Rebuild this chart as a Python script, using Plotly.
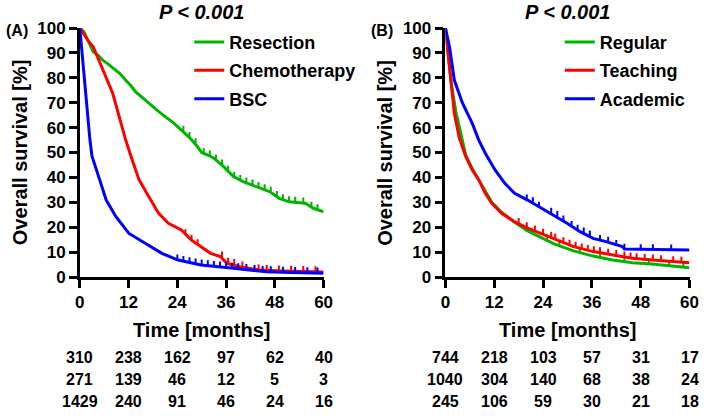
import plotly.graph_objects as go

### Panel A: treatment ###
months_resection = [0, 1, 2, 3.3, 4.5, 5.7, 7, 8.9, 10, 11.3, 12.5, 13.7, 15, 17, 19, 21, 23, 25, 27, 29, 30,
                    31.5, 33, 35.4, 37.8, 40.2, 43.5, 46.7, 49.1, 51.5, 55.5, 57.5, 60]
surv_resection = [100, 98.5, 95, 90.5, 89, 87, 85.5, 83, 81.5, 79, 77, 74.4, 72.5, 69.7, 67, 64.4, 62, 59, 56, 52.3, 50,
                  49, 47.7, 44.3, 40.3, 38.3, 36.3, 34.3, 31.6, 30.2, 29.6, 27.6, 26.2]
months_chemo = [0, 0.9, 2, 3.3, 4.5, 5.7, 7, 8.1, 9.7, 11.3, 12.9, 14.6, 17, 19.4, 21.8, 25, 27.4, 29.8, 32.2,
                34.6, 36.2, 39.4, 44.2, 50, 55, 60]
surv_chemo = [100, 97.9, 95, 92.5, 88, 83, 78.5, 73.8, 64.4, 55, 47, 39, 32.2, 25.6, 21.6, 18.9, 14.9, 12.2, 9.5,
              8.2, 5.5, 4.1, 2.8, 2.4, 2.2, 2]
months_bsc = [0, 0.5, 1, 1.5, 2, 2.5, 3, 4, 4.9, 6.5, 8.9, 12.1, 16.1, 20.2, 24.2, 29.8, 37.8, 45.9, 52, 60]
surv_bsc = [100, 91, 81, 72, 63, 55, 48.5, 43, 39, 30.9, 24.2, 17.5, 13.5, 9.5, 6.8, 4.8, 3.5, 2.1, 1.8, 1.5]

# censored observations (tick marks)
cens_t_resection = [25.5, 27, 28.5, 30.5, 32, 33.5, 35, 36.5, 38, 39.5, 41, 42.5, 44, 45.5, 47, 48.5, 50, 51.5, 53, 55, 57, 58.5]
cens_s_resection = [58.5, 56, 53.5, 49.6, 48.6, 47, 45, 42.5, 40, 38.8, 37.8, 37, 36, 35, 34, 32.3, 31, 30.2, 30, 29.7, 28, 27]
cens_t_chemo = [26, 27.5, 29, 35, 36.5, 38, 40, 44, 46, 49, 52, 55, 58]
cens_s_chemo = [17, 14.8, 13, 8, 5.5, 5, 4, 2.8, 2.6, 2.4, 2.3, 2.2, 2.1]
cens_t_bsc = [24, 25.5, 27, 28.5, 30, 31.5, 33, 34.5, 36, 37.5, 39, 41, 43, 45, 47, 50, 53, 56, 58.5]
cens_s_bsc = [6.8, 6.2, 5.7, 5.2, 4.8, 4.5, 4.2, 4, 3.7, 3.5, 3.3, 3, 2.6, 2.2, 2.1, 1.9, 1.8, 1.7, 1.6]

### Panel B: hospital type ###
months_regular = [0, 0.6, 1.4, 2.6, 3.8, 5, 6.6, 8.2, 9.8, 11.4, 13.8, 17, 20.2, 23.5, 26.7, 31.5, 36.3, 41.1,
                  45.9, 50.8, 55, 58.8, 60]
surv_regular = [100, 90.5, 78, 66, 58, 49, 43.5, 39, 34, 30, 26, 22, 18.5, 15.8, 13.3, 10.5, 8.4, 6.8,
                5.7, 5.2, 4.6, 3.9, 3.7]
months_teaching = [0, 0.6, 1.4, 2.2, 3.4, 5, 6.6, 8.2, 9.8, 11.4, 13.8, 17, 20.2, 23.5, 26.7, 31.5, 36.3, 41.1,
                   45.9, 50.8, 55, 60]
surv_teaching = [100, 89.8, 76.4, 65.7, 56, 48.3, 43, 39, 33.6, 29.6, 25.6, 22.2, 19.6, 17.5, 15.5, 12.2, 10.2, 8.8,
                 7.5, 6.8, 6.2, 5.7]
months_academic = [0, 1, 2.2, 4.2, 6.6, 8.2, 9.8, 12.2, 14.6, 17, 20.2, 24.3, 26.7, 29.9, 33.1, 36.3, 39.5, 43.5,
                   44, 50, 60]
surv_academic = [100, 92.5, 79, 69.8, 61.7, 55, 49.7, 43, 37.6, 33.6, 30.9, 26.9, 24.9, 21.6, 18.2, 15.5, 14.2, 12.2,
                 11.2, 11, 10.8]

cens_t_regular = [25, 28, 33, 38, 44, 50, 55, 58.5]
cens_s_regular = [14.5, 12.5, 9.8, 7.8, 6.1, 5.3, 4.6, 4]
cens_t_teaching = [18, 20, 22, 24, 26, 27, 29, 30.5, 32, 33.5, 35, 36.5, 38, 40, 42, 44, 45.5, 47, 49, 51, 53, 56, 58]
cens_s_teaching = [21.5, 19.8, 18.5, 17.2, 16, 15.3, 13.8, 12.8, 12, 11.3, 10.7, 10.1, 9.7, 9.1, 8.6, 8, 7.6, 7.3,
                   7, 6.8, 6.5, 6.1, 5.9]
cens_t_academic = [20, 21.5, 23, 26, 27.5, 29, 31, 32.5, 34, 35.5, 38, 40, 42, 44, 48, 51, 55.5]
cens_s_academic = [30.9, 29.8, 28, 25.6, 24.3, 22.5, 20.3, 18.8, 17.7, 16.5, 14.7, 14, 12.7, 11.2, 11, 11, 10.9]

### number at risk ###
risk_times = [0, 12, 24, 36, 48, 60]
risk_a = [[310, 238, 162, 97, 62, 40],
          [271, 139, 46, 12, 5, 3],
          [1429, 240, 91, 46, 24, 16]]
risk_b = [[744, 218, 103, 57, 31, 17],
          [1040, 304, 140, 68, 38, 24],
          [245, 106, 59, 30, 21, 18]]

GREEN = "#00B400"
RED = "#FF0000"
BLUE = "#0000FF"
FONT = "Liberation Sans, Arial, sans-serif"

panel_a = [
    ("Resection", months_resection, surv_resection, cens_t_resection, cens_s_resection, GREEN),
    ("Chemotherapy", months_chemo, surv_chemo, cens_t_chemo, cens_s_chemo, RED),
    ("BSC", months_bsc, surv_bsc, cens_t_bsc, cens_s_bsc, BLUE),
]
panel_b = [
    ("Regular", months_regular, surv_regular, cens_t_regular, cens_s_regular, GREEN),
    ("Teaching", months_teaching, surv_teaching, cens_t_teaching, cens_s_teaching, RED),
    ("Academic", months_academic, surv_academic, cens_t_academic, cens_s_academic, BLUE),
]

fig = go.Figure()

for panel, xa, ya, leg in [(panel_a, "x", "y", "legend"), (panel_b, "x2", "y2", "legend2")]:
    for name, t, s, ct, cs, color in panel:
        fig.add_trace(go.Scatter(
            x=t, y=s, mode="lines", name=name, line=dict(color=color, width=3),
            xaxis=xa, yaxis=ya, legend=leg, legendgroup=name + leg,
        ))
        # censor ticks: short upward strokes drawn as one-sided error bars
        fig.add_trace(go.Scatter(
            x=ct, y=cs, mode="markers", showlegend=False, xaxis=xa, yaxis=ya,
            marker=dict(size=1, color=color),
            error_y=dict(type="constant", value=2.2, valueminus=0, symmetric=False,
                         color=color, thickness=2, width=0),
            hoverinfo="skip",
        ))

axis_common = dict(
    showline=True, linecolor="black", linewidth=2.5, ticks="outside", ticklen=8, tickwidth=2.5,
    tickcolor="black", showgrid=False, zeroline=False,
    tickfont=dict(family=FONT, size=17, color="black", weight="bold"),
)
x_common = dict(axis_common, range=[0, 60], tickvals=risk_times)
y_common = dict(axis_common, range=[0, 100], tickvals=list(range(0, 101, 10)))

legend_common = dict(
    xanchor="left", yanchor="top", bgcolor="rgba(0,0,0,0)", tracegroupgap=2,
    font=dict(family=FONT, size=18, color="black", weight="bold"), itemwidth=30,
)

annotations = []
for xdom_ref, risk, ytitle_x in [("x", risk_a, 15), ("x2", risk_b, 387)]:
    for r, row in enumerate(risk):
        for t, n in zip(risk_times, row):
            annotations.append(dict(
                x=t, y=-0.325 - r * 0.088, xref=xdom_ref, yref="paper", text=str(n), showarrow=False,
                font=dict(family=FONT, size=16, color="black", weight="bold"),
                xanchor="center", yanchor="middle",
            ))
    annotations.append(dict(
        x=30, y=-0.213, xref=xdom_ref, yref="paper", text="Time [months]", showarrow=False,
        font=dict(family=FONT, size=20, color="black", weight="bold"), xanchor="center", yanchor="middle",
    ))
    annotations.append(dict(
        x=30, y=1.065, xref=xdom_ref, yref="paper", text="<i>P</i> < 0.001", showarrow=False,
        font=dict(family=FONT, size=20, color="black", weight="bold", style="italic"),
        xanchor="center", yanchor="middle",
    ))
    annotations.append(dict(
        x=ytitle_x / 709, y=0.5, xref="paper", yref="paper", text="Overall survival [%]", showarrow=False,
        textangle=-90, font=dict(family=FONT, size=20, color="black", weight="bold"),
        xanchor="center", yanchor="middle",
    ))

for label, px in [("(A)", 12), ("(B)", 385)]:
    annotations.append(dict(x=px / 709, y=0.99, xref="paper", yref="paper", text=label, showarrow=False,
                            font=dict(family=FONT, size=16, color="black", weight="bold"),
                            xanchor="center", yanchor="middle"))

fig.update_layout(
    width=709, height=416,
    margin=dict(l=0, r=0, t=28, b=139),
    paper_bgcolor="white", plot_bgcolor="white",
    xaxis=dict(x_common, domain=[76.3 / 709, 325 / 709], anchor="y"),
    yaxis=dict(y_common, anchor="x"),
    xaxis2=dict(x_common, domain=[449.3 / 709, 698.3 / 709], anchor="y2"),
    yaxis2=dict(y_common, anchor="x2"),
    legend=dict(legend_common, x=188 / 709, y=1.017),
    legend2=dict(legend_common, x=566 / 709, y=1.017),
    annotations=annotations,
    showlegend=True,
)

# drop the default page margin so the figure fills the window
fig.write_html("out.html", config={"displayModeBar": False},
               post_script="document.body.style.margin='0';document.body.style.overflow='hidden';")
